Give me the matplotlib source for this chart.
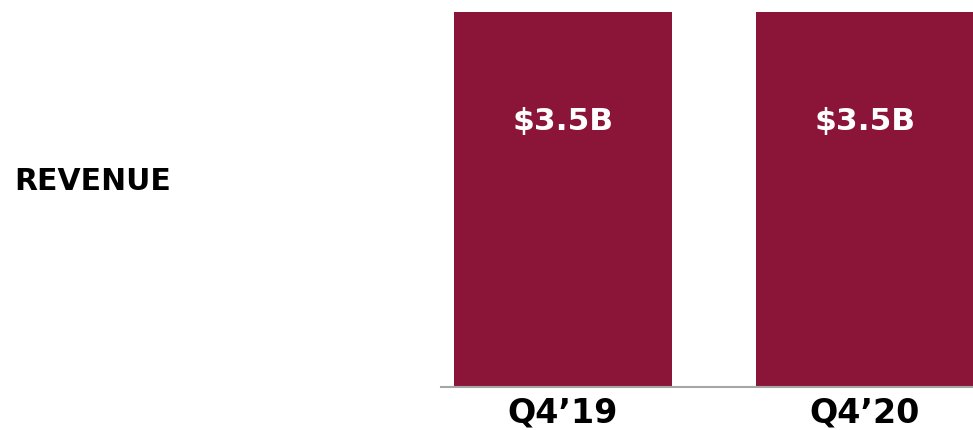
import matplotlib.pyplot as plt

quarters = ["Q4\u201919", "Q4\u201920"]
revenue = [3.5, 3.5]
value_labels = ["$3.5B", "$3.5B"]
row_title = "REVENUE"

bar_color = "#8B1538"

fig = plt.figure(figsize=(9.73, 4.31), dpi=100)
ax = fig.add_axes([441 / 973, 43 / 431, 532 / 973, 375 / 431])

x = range(len(quarters))
bars = ax.bar(x, revenue, width=0.72, color=bar_color)

for b, lab in zip(bars, value_labels):
    ax.text(b.get_x() + b.get_width() / 2, b.get_height() * 0.71, lab,
            ha="center", va="center", color="white", fontsize=22.5,
            fontweight="bold")

ax.set_xlim(-0.403, 1.358)
ax.set_ylim(0, 3.5)
ax.set_xticks(list(x))
ax.set_xticklabels(quarters, fontsize=24, fontweight="bold")
ax.tick_params(axis="x", length=0, pad=6)
ax.set_yticks([])
for side in ["top", "right", "left"]:
    ax.spines[side].set_visible(False)
ax.spines["bottom"].set_color("#A6A6A6")
ax.spines["bottom"].set_linewidth(1.5)

fig.text(14 / 973, 1 - 182 / 431, row_title, ha="left", va="center",
         fontsize=21.5, fontweight="bold")

fig.savefig("out.png", dpi=100)
